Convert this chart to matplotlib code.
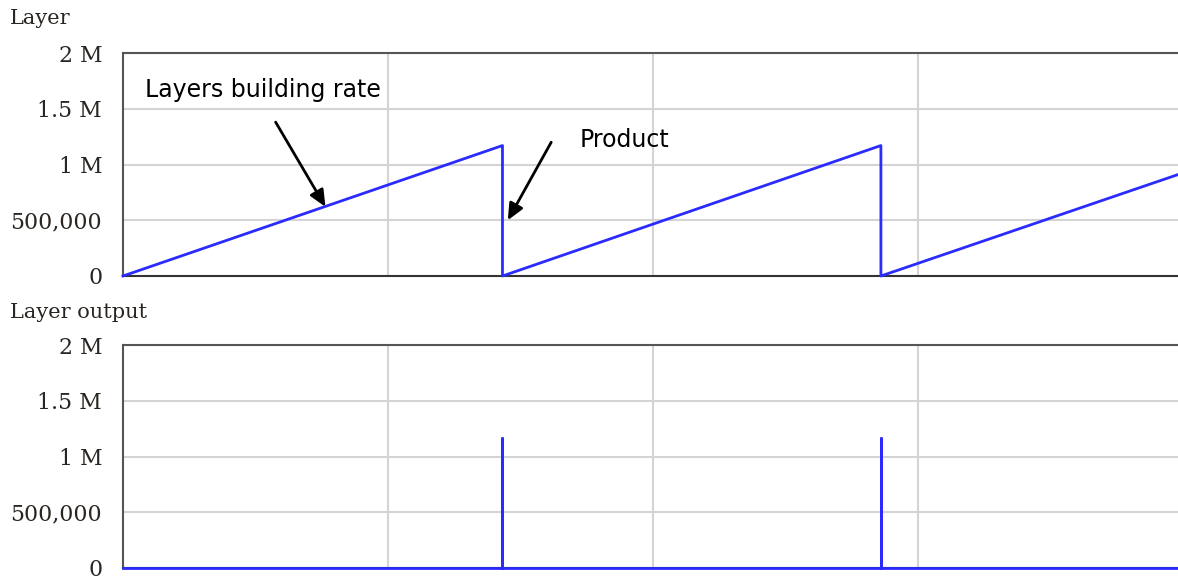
import matplotlib
matplotlib.use("Agg")
import matplotlib.pyplot as plt
from matplotlib.ticker import FixedLocator

# Stock of layers: grows linearly, emptied whenever a product is released
layer_time = [0.0, 35.8, 35.8, 71.5, 71.5, 100.0]
layer_value = [0.0, 1.17e6, 0.0, 1.17e6, 0.0, 0.925e6]

# Outflow: a pulse at each release time, zero elsewhere
output_time = [0.0, 35.8, 35.8, 35.8, 71.5, 71.5, 71.5, 100.0]
output_value = [0.0, 0.0, 1.17e6, 0.0, 0.0, 1.17e6, 0.0, 0.0]

y_ticks = [0, 500000, 1000000, 1500000, 2000000]
y_tick_labels = ["0", "500,000", "1 M", "1.5 M", "2 M"]
x_grid = [25, 50, 75]

panel_titles = ["Layer", "Layer output"]

LINE_COLOR = "#2b2bff"
GRID_COLOR = "#d4d4d4"
SPINE_COLOR = "#555555"
TEXT_COLOR = "#2a2520"
TICK_FONT = "DejaVu Serif"
NOTE_FONT = "DejaVu Sans"

W, H = 1178, 581
fig = plt.figure(figsize=(W / 100, H / 100), dpi=100)


def make_axes(top_px, bottom_px):
    left = 123 / W
    right = 1183 / W
    return fig.add_axes([left, 1 - bottom_px / H, right - left, (bottom_px - top_px) / H])


ax_top = make_axes(53, 276)
ax_bot = make_axes(345, 568)

for ax, tx, ty in [
    (ax_top, layer_time, layer_value),
    (ax_bot, output_time, output_value),
]:
    ax.set_xlim(0, 100)
    ax.set_ylim(0, 2e6)
    ax.yaxis.set_major_locator(FixedLocator(y_ticks))
    ax.set_yticklabels(y_tick_labels, fontfamily=TICK_FONT, fontsize=15.8, color=TEXT_COLOR)
    ax.xaxis.set_major_locator(FixedLocator(x_grid))
    ax.set_xticklabels([])
    ax.tick_params(axis="both", length=0, pad=15)
    ax.grid(True, color=GRID_COLOR, linewidth=1.5)
    ax.set_axisbelow(True)
    for side in ("left", "top"):
        ax.spines[side].set_color(SPINE_COLOR)
        ax.spines[side].set_linewidth(1.5)
    ax.spines["bottom"].set_color("#333333")
    ax.spines["bottom"].set_linewidth(1.5)
    ax.spines["right"].set_visible(False)
    ax.plot(tx, ty, color=LINE_COLOR, linewidth=2, clip_on=False, zorder=3)

# Panel titles above each chart
fig.text(10 / W, 1 - 19 / H, panel_titles[0], fontfamily=TICK_FONT, fontsize=15,
         color=TEXT_COLOR, va="center", ha="left")
fig.text(10 / W, 1 - 313 / H, panel_titles[1], fontfamily=TICK_FONT, fontsize=15,
         color=TEXT_COLOR, va="center", ha="left")

# Callouts on the upper chart
arrow_style = dict(arrowstyle="-|>,head_length=1.0,head_width=0.45",
                   color="black", lw=2, shrinkA=0, shrinkB=0)
ax_top.annotate("", xy=(19.1, 0.62e6), xytext=(14.4, 1.38e6), arrowprops=arrow_style)
ax_top.text(2.1, 1.67e6, "Layers building rate", fontfamily=NOTE_FONT, fontsize=17,
            color="black", va="center", ha="left")
ax_top.annotate("", xy=(36.3, 0.5e6), xytext=(40.4, 1.2e6), arrowprops=arrow_style)
ax_top.text(43.1, 1.22e6, "Product", fontfamily=NOTE_FONT, fontsize=17,
            color="black", va="center", ha="left")

fig.savefig("out.png", dpi=100)
